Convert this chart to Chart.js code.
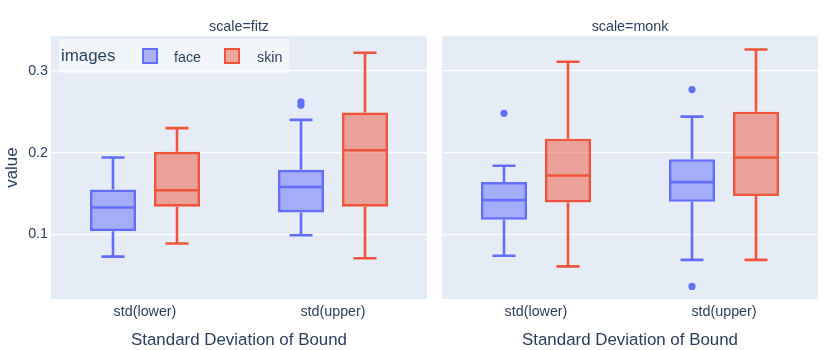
<!DOCTYPE html>
<html>
<head>
<meta charset="utf-8">
<script src="https://cdn.jsdelivr.net/npm/chart.js@4.4.1/dist/chart.umd.min.js"></script>
<style>
  body { margin: 0; background: #fff; }
  #wrap { position: relative; width: 831px; height: 350px; font-family: "Liberation Sans", Arial, sans-serif; color: #2a3f5f; }
  .panel { position: absolute; top: 0; height: 350px; }
  #legend { position: absolute; left: 59px; top: 39px; width: 230px; height: 34px; background: rgba(255,255,255,0.5); }
  #legend span { position: absolute; white-space: nowrap; }
  .swatch { width: 16px; height: 16px; box-sizing: border-box; border: 2.6px solid; }
</style>
</head>
<body>
<div id="wrap">
  <div class="panel" style="left:0;width:431px"><canvas id="fitzChart" width="431" height="350"></canvas></div>
  <div class="panel" style="left:431px;width:400px"><canvas id="monkChart" width="400" height="350"></canvas></div>
  <div id="legend">
    <span style="left:2px;top:7px;font-size:16.9px;line-height:20px">images</span>
    <span class="swatch" style="left:83px;top:9px;background:rgba(99,110,250,0.5);border-color:#636efa"></span>
    <span style="left:115px;top:10px;font-size:14.3px;line-height:17px">face</span>
    <span class="swatch" style="left:165px;top:9px;background:rgba(239,85,59,0.5);border-color:#ef553b"></span>
    <span style="left:198px;top:10px;font-size:14.3px;line-height:17px">skin</span>
  </div>
</div>

<script>
const categories = ["std(lower)", "std(upper)"];
const yTicks = [0.1, 0.2, 0.3];
const yMin = 0.0212;
const yMax = 0.3423;

// each box: [lower whisker, q1, median, q3, upper whisker]
const fitzFace = [[0.073, 0.104, 0.133, 0.155, 0.194], [0.099, 0.127, 0.158, 0.179, 0.240]];
const fitzSkin = [[0.089, 0.134, 0.154, 0.201, 0.230], [0.071, 0.134, 0.203, 0.249, 0.322]];
const fitzFaceOutliers = [[], [0.2578, 0.2621]];
const fitzSkinOutliers = [[], []];

const monkFace = [[0.074, 0.118, 0.142, 0.164, 0.184], [0.069, 0.140, 0.164, 0.192, 0.244]];
const monkSkin = [[0.061, 0.139, 0.172, 0.217, 0.311], [0.069, 0.147, 0.194, 0.250, 0.326]];
const monkFaceOutliers = [[0.248], [0.0366, 0.277]];
const monkSkinOutliers = [[], []];

const faceColor = "#636efa";
const skinColor = "#ef553b";
const textColor = "#2a3f5f";
const lineW = 2.6;

Chart.defaults.font.family = '"Liberation Sans", Arial, sans-serif';
Chart.defaults.color = textColor;

const plotBg = {
  id: "plotBg",
  beforeDraw(chart) {
    const { ctx, chartArea } = chart;
    ctx.save();
    ctx.fillStyle = "#e5ecf6";
    ctx.fillRect(chartArea.left, chartArea.top, chartArea.right - chartArea.left, chartArea.bottom - chartArea.top);
    ctx.restore();
  }
};

// whiskers, median and outliers on top of the floating bars
const boxWhiskers = {
  id: "boxWhiskers",
  afterDatasetsDraw(chart) {
    const ctx = chart.ctx;
    const yScale = chart.scales.y;
    chart.data.datasets.forEach((ds, di) => {
      const meta = chart.getDatasetMeta(di);
      meta.data.forEach((bar, i) => {
        const s = ds.stats[i];
        const half = bar.width / 2;
        const cap = half / 2;
        const x = bar.x;
        const pLow = yScale.getPixelForValue(s[0]);
        const pQ1 = yScale.getPixelForValue(s[1]);
        const pMed = yScale.getPixelForValue(s[2]);
        const pQ3 = yScale.getPixelForValue(s[3]);
        const pHigh = yScale.getPixelForValue(s[4]);

        ctx.save();
        ctx.strokeStyle = ds.borderColor;
        ctx.lineWidth = lineW;
        ctx.beginPath();
        ctx.moveTo(x, pQ1);
        ctx.lineTo(x, pLow);
        ctx.moveTo(x - cap, pLow);
        ctx.lineTo(x + cap, pLow);
        ctx.moveTo(x, pQ3);
        ctx.lineTo(x, pHigh);
        ctx.moveTo(x - cap, pHigh);
        ctx.lineTo(x + cap, pHigh);
        ctx.moveTo(x - half, pMed);
        ctx.lineTo(x + half, pMed);
        ctx.stroke();

        ctx.fillStyle = ds.borderColor;
        (ds.outliers[i] || []).forEach(v => {
          ctx.beginPath();
          ctx.arc(x, yScale.getPixelForValue(v), 3.6, 0, Math.PI * 2);
          ctx.fill();
        });
        ctx.restore();
      });
    });
  }
};

function makeDataset(label, stats, outliers, color, fill) {
  return {
    label,
    data: stats.map(s => [s[1], s[3]]),
    stats,
    outliers,
    backgroundColor: fill,
    borderColor: color,
    borderWidth: lineW,
    borderSkipped: false,
    categoryPercentage: 0.681,
    barPercentage: 0.719
  };
}

function makeChart(canvasId, title, faceStats, skinStats, faceOut, skinOut, showY, padRight, yWidth) {
  return new Chart(document.getElementById(canvasId), {
    type: "bar",
    data: {
      labels: categories,
      datasets: [
        makeDataset("face", faceStats, faceOut, faceColor, "rgba(99,110,250,0.5)"),
        makeDataset("skin", skinStats, skinOut, skinColor, "rgba(239,85,59,0.5)")
      ]
    },
    options: {
      responsive: false,
      animation: false,
      events: [],
      layout: { padding: { left: 0, right: padRight, top: 0, bottom: 0 } },
      plugins: {
        legend: { display: false },
        tooltip: { enabled: false },
        title: {
          display: true,
          text: title,
          fullSize: false,
          color: textColor,
          font: { size: 14.3, weight: "normal" },
          padding: { top: 18, bottom: 1 }
        }
      },
      scales: {
        x: {
          grid: { display: false, drawTicks: false },
          border: { display: false },
          ticks: { color: textColor, font: { size: 14.3 }, padding: 4 },
          title: {
            display: true,
            text: "Standard Deviation of Bound",
            color: textColor,
            font: { size: 16.9, lineHeight: 1 },
            padding: { top: 0, bottom: 1 }
          },
          afterFit(scale) { scale.height = 51; }
        },
        y: {
          min: yMin,
          max: yMax,
          grid: { color: "#ffffff", lineWidth: 1.3, drawTicks: false },
          border: { display: false },
          ticks: { display: showY, color: textColor, font: { size: 14.3 }, padding: 3 },
          title: {
            display: showY,
            text: "value",
            color: textColor,
            font: { size: 16.9, lineHeight: 1.2 },
            padding: { top: 2, bottom: 0 }
          },
          afterBuildTicks(scale) { scale.ticks = yTicks.map(v => ({ value: v })); },
          afterFit(scale) { scale.width = yWidth; }
        }
      }
    },
    plugins: [plotBg, boxWhiskers]
  });
}

makeChart("fitzChart", "scale=fitz", fitzFace, fitzSkin, fitzFaceOutliers, fitzSkinOutliers, true, 4, 51);
makeChart("monkChart", "scale=monk", monkFace, monkSkin, monkFaceOutliers, monkSkinOutliers, false, 13, 11);
</script>
</body>
</html>
